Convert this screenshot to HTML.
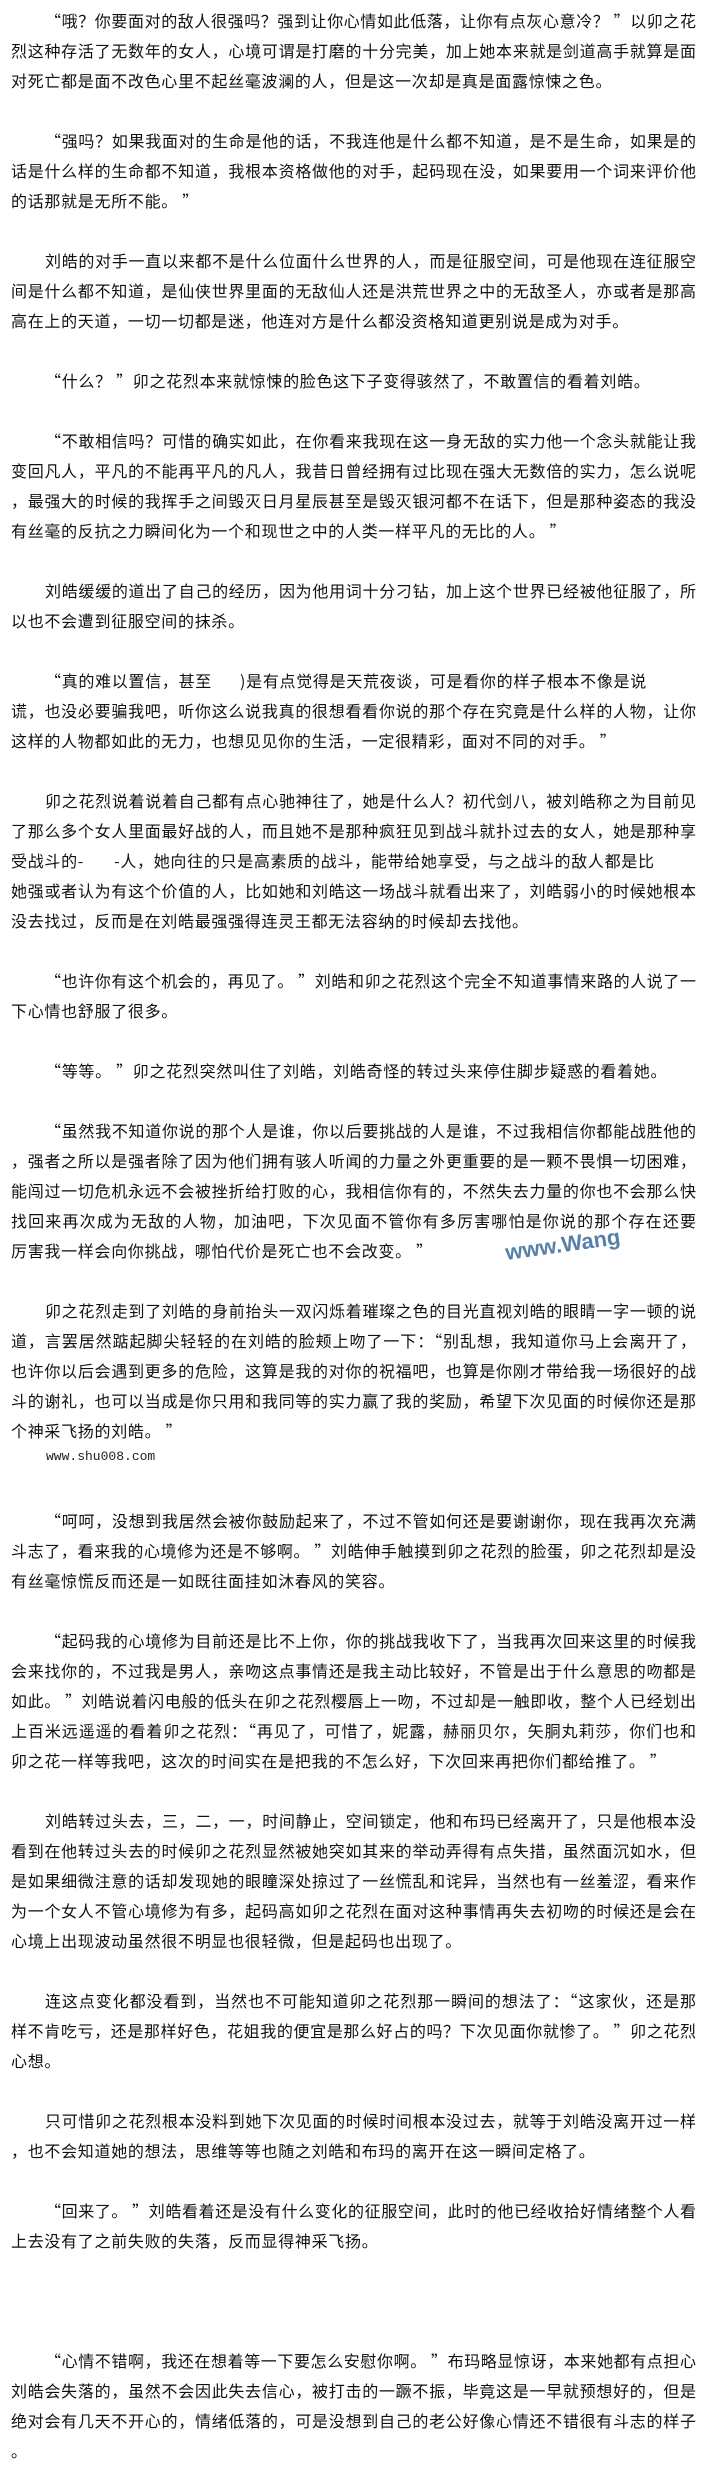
<!DOCTYPE html>
<html><head><meta charset="utf-8">
<style>
html,body{margin:0;padding:0;background:#fff;}
body{width:705px;height:2455px;overflow:hidden;position:relative;}
#c{position:absolute;top:5px;left:11px;width:685px;font-family:"Noto Sans CJK SC","Liberation Sans",sans-serif;font-size:16px;color:#111;}
.l{height:30px;line-height:30px;overflow:hidden;text-align:justify;text-align-last:justify;text-justify:inter-character;white-space:nowrap;}
.e{text-align-last:left;letter-spacing:0.7px;}
.i{padding-left:34px;}
.b{height:30px;}
.w{height:30px;line-height:24px;padding-left:35px;font-family:"Liberation Mono",monospace;font-size:13px;color:#222;}
.wm{position:absolute;left:505px;top:1232px;font-family:"Liberation Sans",sans-serif;font-size:22px;font-weight:bold;color:#3a6a9a;transform:rotate(-8deg);opacity:.85;}
</style></head><body>
<div id="c">
<div class="l i">“哦？你要面对的敌人很强吗？强到让你心情如此低落，让你有点灰心意冷？ ”以卯之花</div>
<div class="l">烈这种存活了无数年的女人，心境可谓是打磨的十分完美，加上她本来就是剑道高手就算是面</div>
<div class="l e">对死亡都是面不改色心里不起丝毫波澜的人，但是这一次却是真是面露惊悚之色。</div>
<div class="b"></div>
<div class="l i">“强吗？如果我面对的生命是他的话，不我连他是什么都不知道，是不是生命，如果是的</div>
<div class="l">话是什么样的生命都不知道，我根本资格做他的对手，起码现在没，如果要用一个词来评价他</div>
<div class="l e">的话那就是无所不能。 ”</div>
<div class="b"></div>
<div class="l i">刘皓的对手一直以来都不是什么位面什么世界的人，而是征服空间，可是他现在连征服空</div>
<div class="l">间是什么都不知道，是仙侠世界里面的无敌仙人还是洪荒世界之中的无敌圣人，亦或者是那高</div>
<div class="l e">高在上的天道，一切一切都是迷，他连对方是什么都没资格知道更别说是成为对手。</div>
<div class="b"></div>
<div class="l i e">“什么？ ”卯之花烈本来就惊悚的脸色这下子变得骇然了，不敢置信的看着刘皓。</div>
<div class="b"></div>
<div class="l i">“不敢相信吗？可惜的确实如此，在你看来我现在这一身无敌的实力他一个念头就能让我</div>
<div class="l">变回凡人，平凡的不能再平凡的凡人，我昔日曾经拥有过比现在强大无数倍的实力，怎么说呢</div>
<div class="l">，最强大的时候的我挥手之间毁灭日月星辰甚至是毁灭银河都不在话下，但是那种姿态的我没</div>
<div class="l e">有丝毫的反抗之力瞬间化为一个和现世之中的人类一样平凡的无比的人。 ”</div>
<div class="b"></div>
<div class="l i">刘皓缓缓的道出了自己的经历，因为他用词十分刁钻，加上这个世界已经被他征服了，所</div>
<div class="l e">以也不会遭到征服空间的抹杀。</div>
<div class="b"></div>
<div class="l i e">“真的难以置信，甚至<span style="display:inline-block;width:28px"></span>)是有点觉得是天荒夜谈，可是看你的样子根本不像是说</div>
<div class="l">谎，也没必要骗我吧，听你这么说我真的很想看看你说的那个存在究竟是什么样的人物，让你</div>
<div class="l e">这样的人物都如此的无力，也想见见你的生活，一定很精彩，面对不同的对手。 ”</div>
<div class="b"></div>
<div class="l i">卯之花烈说着说着自己都有点心驰神往了，她是什么人？初代剑八，被刘皓称之为目前见</div>
<div class="l">了那么多个女人里面最好战的人，而且她不是那种疯狂见到战斗就扑过去的女人，她是那种享</div>
<div class="l e">受战斗的-<span style="display:inline-block;width:30px"></span>-人，她向往的只是高素质的战斗，能带给她享受，与之战斗的敌人都是比</div>
<div class="l">她强或者认为有这个价值的人，比如她和刘皓这一场战斗就看出来了，刘皓弱小的时候她根本</div>
<div class="l e">没去找过，反而是在刘皓最强强得连灵王都无法容纳的时候却去找他。</div>
<div class="b"></div>
<div class="l i">“也许你有这个机会的，再见了。 ”刘皓和卯之花烈这个完全不知道事情来路的人说了一</div>
<div class="l e">下心情也舒服了很多。</div>
<div class="b"></div>
<div class="l i e">“等等。 ”卯之花烈突然叫住了刘皓，刘皓奇怪的转过头来停住脚步疑惑的看着她。</div>
<div class="b"></div>
<div class="l i">“虽然我不知道你说的那个人是谁，你以后要挑战的人是谁，不过我相信你都能战胜他的</div>
<div class="l">，强者之所以是强者除了因为他们拥有骇人听闻的力量之外更重要的是一颗不畏惧一切困难，</div>
<div class="l">能闯过一切危机永远不会被挫折给打败的心，我相信你有的，不然失去力量的你也不会那么快</div>
<div class="l">找回来再次成为无敌的人物，加油吧，下次见面不管你有多厉害哪怕是你说的那个存在还要</div>
<div class="l e">厉害我一样会向你挑战，哪怕代价是死亡也不会改变。 ”</div>
<div class="b"></div>
<div class="l i">卯之花烈走到了刘皓的身前抬头一双闪烁着璀璨之色的目光直视刘皓的眼睛一字一顿的说</div>
<div class="l">道，言罢居然踮起脚尖轻轻的在刘皓的脸颊上吻了一下：“别乱想，我知道你马上会离开了，</div>
<div class="l">也许你以后会遇到更多的危险，这算是我的对你的祝福吧，也算是你刚才带给我一场很好的战</div>
<div class="l">斗的谢礼，也可以当成是你只用和我同等的实力赢了我的奖励，希望下次见面的时候你还是那</div>
<div class="l e">个神采飞扬的刘皓。 ”</div>
<div class="w">www.shu008.com</div>
<div class="b"></div>
<div class="l i">“呵呵，没想到我居然会被你鼓励起来了，不过不管如何还是要谢谢你，现在我再次充满</div>
<div class="l">斗志了，看来我的心境修为还是不够啊。 ”刘皓伸手触摸到卯之花烈的脸蛋，卯之花烈却是没</div>
<div class="l e">有丝毫惊慌反而还是一如既往面挂如沐春风的笑容。</div>
<div class="b"></div>
<div class="l i">“起码我的心境修为目前还是比不上你，你的挑战我收下了，当我再次回来这里的时候我</div>
<div class="l">会来找你的，不过我是男人，亲吻这点事情还是我主动比较好，不管是出于什么意思的吻都是</div>
<div class="l">如此。 ”刘皓说着闪电般的低头在卯之花烈樱唇上一吻，不过却是一触即收，整个人已经划出</div>
<div class="l">上百米远遥遥的看着卯之花烈：“再见了，可惜了，妮露，赫丽贝尔，矢胴丸莉莎，你们也和</div>
<div class="l e">卯之花一样等我吧，这次的时间实在是把我的不怎么好，下次回来再把你们都给推了。 ”</div>
<div class="b"></div>
<div class="l i">刘皓转过头去，三，二，一，时间静止，空间锁定，他和布玛已经离开了，只是他根本没</div>
<div class="l">看到在他转过头去的时候卯之花烈显然被她突如其来的举动弄得有点失措，虽然面沉如水，但</div>
<div class="l">是如果细微注意的话却发现她的眼瞳深处掠过了一丝慌乱和诧异，当然也有一丝羞涩，看来作</div>
<div class="l">为一个女人不管心境修为有多，起码高如卯之花烈在面对这种事情再失去初吻的时候还是会在</div>
<div class="l e">心境上出现波动虽然很不明显也很轻微，但是起码也出现了。</div>
<div class="b"></div>
<div class="l i">连这点变化都没看到，当然也不可能知道卯之花烈那一瞬间的想法了：“这家伙，还是那</div>
<div class="l">样不肯吃亏，还是那样好色，花姐我的便宜是那么好占的吗？下次见面你就惨了。 ”卯之花烈</div>
<div class="l e">心想。</div>
<div class="b"></div>
<div class="l i">只可惜卯之花烈根本没料到她下次见面的时候时间根本没过去，就等于刘皓没离开过一样</div>
<div class="l e">，也不会知道她的想法，思维等等也随之刘皓和布玛的离开在这一瞬间定格了。</div>
<div class="b"></div>
<div class="l i">“回来了。 ”刘皓看着还是没有什么变化的征服空间，此时的他已经收拾好情绪整个人看</div>
<div class="l e">上去没有了之前失败的失落，反而显得神采飞扬。</div>
<div class="b"></div>
<div class="b"></div>
<div class="b"></div>
<div class="l i">“心情不错啊，我还在想着等一下要怎么安慰你啊。 ”布玛略显惊讶，本来她都有点担心</div>
<div class="l">刘皓会失落的，虽然不会因此失去信心，被打击的一蹶不振，毕竟这是一早就预想好的，但是</div>
<div class="l">绝对会有几天不开心的，情绪低落的，可是没想到自己的老公好像心情还不错很有斗志的样子</div>
<div class="l e">。</div>
</div>
<div class="wm">www.Wang</div>
</body></html>
